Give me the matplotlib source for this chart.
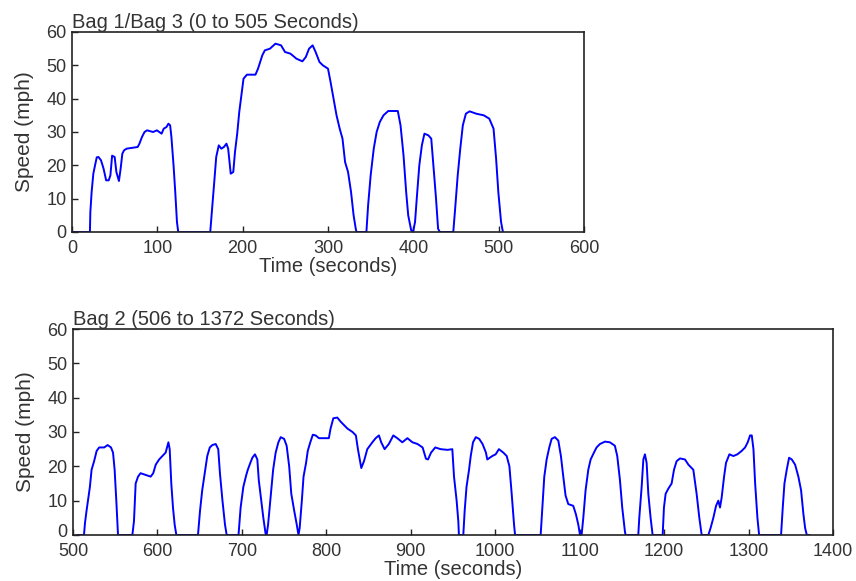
import matplotlib
matplotlib.use("Agg")
from matplotlib import pyplot as plt
from matplotlib.transforms import ScaledTranslation

# Bag 1 / Bag 3 (0 to 505 s), speed in mph
t_bag1 = [0, 21, 21.5, 23, 25, 27, 29, 31, 34, 37, 40, 43, 45, 47, 50, 52, 55, 57, 59, 61, 64,
          77, 79, 82, 85, 88, 95, 99.5, 105, 107.5, 110.7, 113, 115, 116.5, 119, 121, 123, 124.5,
          162, 164.5, 166.7, 169, 172, 175, 178, 181, 183, 184.6, 186, 189, 191, 193.6, 196, 198,
          201, 205, 215, 218, 223, 226, 232, 238.4, 245, 249.6, 256, 263, 270, 274, 277.8, 282,
          285.5, 290, 294, 300, 303, 306.5, 310, 313.7, 317, 320, 323.5, 327, 330, 332.5, 333.4,
          345, 347, 350, 353.6, 357, 360.7, 365, 370.6, 381.8, 385, 388.5, 391.6, 394, 397.5,
          399.7, 402, 404, 407, 410, 413, 417.6, 421, 423.5, 426.6, 429, 431,
          446.8, 449, 452, 455, 458, 461.6, 466, 473.6, 482.6, 489, 494, 497, 499.6, 502.8, 505]
v_bag1 = [0, 0, 6, 12, 17.5, 20, 22.4, 22.5, 21.5, 19, 15.5, 15.5, 17, 22.9, 22.5, 18, 15.3, 19,
          23.5, 24.5, 25, 25.5, 26.5, 28.5, 30, 30.5, 30, 30.5, 29.5, 31, 31.5, 32.5, 32, 28.5, 20,
          12, 3, 0,
          0, 8, 15, 22.5, 26, 25, 25.5, 26.5, 25, 21, 17.5, 18, 24, 29.5, 36, 40,
          46, 47.2, 47.2, 49, 53, 54.5, 55, 56.5, 56, 54, 53.5, 52, 51.2, 52.5, 55, 56,
          54, 51, 50, 49, 45, 40, 35, 31, 28, 21, 18, 12, 5, 1, 0,
          0, 8, 17, 25, 30, 33, 35, 36.3, 36.3, 32, 23, 12, 5, 0.5,
          0, 3, 10, 20, 26, 29.5, 29, 28, 20, 10, 1, 0,
          0, 7, 17, 25, 32, 35.5, 36.2, 35.5, 35, 34, 31, 22, 12, 3, 0]

# Bag 2 (506 to 1372 s)
t_bag2 = [506, 513, 514.2, 516, 518, 520, 522, 525, 528, 531, 537, 541, 545, 547.4, 549.3, 551.3,
          553.3, 570.3, 572.2, 574.2, 577, 580, 586, 592, 595, 598, 602, 605.8, 609.7, 613, 614.5,
          616.4, 618.4, 620.4, 622.4, 648, 650.4, 653, 656, 659, 662, 665, 669, 672, 674, 677, 680,
          682, 696, 698.5, 701.7, 705.2, 707, 710, 712.4, 715.5, 718.3, 720, 723, 725.4, 728, 729.3,
          731, 734, 737, 740, 743.2, 746, 750, 753, 756, 758.5, 762, 765, 767,
          768.4, 771, 773, 776, 778, 781, 784, 787.3, 791.3, 803, 805, 808.3, 813, 817, 821, 825,
          831, 835, 837.4, 840, 841.4, 844.6, 848.5, 854.5, 858.4, 862.3, 865, 869, 874, 879.3,
          884, 890, 896, 902, 908, 914, 918, 920.4, 924, 929, 935.4, 943.5, 949.2, 951.2, 954.3,
          956.3, 957, 962.2, 963.8, 966, 969, 971, 973.7, 977, 981, 985, 989, 990.6, 996.5,
          1000.5, 1004.4, 1009.6, 1013.6, 1016.8, 1019.5, 1022.3, 1023.5,
          1053.8, 1055.8, 1058.1, 1060.9, 1064, 1066.8, 1070.7, 1074.7, 1077.8, 1080.6, 1083.3,
          1086.5, 1092.4, 1095.6, 1098.4, 1100.4, 1102.3, 1104.3, 1107, 1110.2, 1113, 1116.9,
          1120, 1124, 1130, 1135.8, 1141.7, 1144.5, 1147.7, 1150.4, 1153.6, 1154.4,
          1169.4, 1170.6, 1173.4, 1175.4, 1177.3, 1179.3, 1181.3, 1184, 1186.4,
          1198.3, 1199.8, 1201.8, 1205, 1208.9, 1211.7, 1214.8, 1218.8, 1224.7, 1228.7, 1234.6,
          1238.5, 1241.7, 1244.5, 1252.4, 1255, 1258.3, 1261.5, 1264.2, 1266.2, 1268.2, 1271,
          1273.3, 1277.3, 1282, 1286.8, 1291.9, 1295.9, 1299, 1301.8, 1303.8, 1305.8, 1307.8,
          1310.5, 1312.5, 1338.5, 1340.5, 1342.5, 1345.2, 1348, 1351.2, 1355.1, 1359, 1362.2,
          1365, 1367, 1369, 1372]
v_bag2 = [0, 0, 3.5, 7, 10.5, 14, 19, 21.5, 24.5, 25.5, 25.5, 26.2, 25.5, 24, 19, 10,
          0, 0, 4, 15, 17, 18, 17.5, 17, 18, 20.5, 22, 23, 24, 27, 25,
          15, 8, 3, 0, 0, 7, 13, 18, 23, 25.5, 26.2, 26.5, 25, 18, 10, 3,
          0, 0, 8, 14, 17.5, 19, 21, 22.5, 23.5, 22, 16, 10, 5, 0.5, 0,
          3, 11, 19, 24, 27, 28.5, 28, 26, 20, 12, 7, 3, 0,
          2, 10, 17, 21, 24.5, 27, 29.2, 29, 28.2, 28.2, 31, 34, 34.2, 33, 32, 31,
          30, 29, 25, 21.5, 19.5, 21.5, 25, 27, 28.2, 29, 27, 25, 26.5, 29,
          28.2, 27, 28.2, 27, 26.5, 25.5, 22.2, 22, 24, 25.5, 25, 24.8, 25, 17, 10,
          4, 0, 0, 7, 14, 19, 23, 27, 28.5, 28, 26.5, 24, 22, 23,
          23.5, 25, 24, 23, 20, 12, 3, 0,
          0, 8, 17, 22, 25.5, 28, 28.5, 27.5, 23, 17, 11.5,
          9, 8.5, 6, 3, 0, 0, 5, 13, 19, 22, 24,
          25.5, 26.5, 27.2, 27, 26, 23, 16, 8, 1, 0,
          0, 5, 14, 22, 23.5, 21, 12, 5, 0,
          0, 8, 12, 13.5, 15, 19, 21.5, 22.3, 22, 20.5, 19,
          12, 5, 0, 0, 2, 5, 8.5, 10, 8, 11, 17,
          21, 23.5, 23, 23.5, 24.5, 25.5, 27, 29, 29, 25, 15,
          5, 0, 0, 8, 15, 19, 22.5, 22, 20.5, 17, 13,
          6, 2, 0, 0]

y_ticks = [0, 10, 20, 30, 40, 50, 60]

plt.rcParams["font.family"] = ["Liberation Sans", "DejaVu Sans"]
text_color = "#333333"


def style_axes(ax, title):
    ax.set_ylim(0, 60)
    ax.set_yticks(y_ticks)
    ax.tick_params(direction="in", length=4, width=1, labelsize=13, colors=text_color,
                   pad=4, top=False, right=False)
    ax.tick_params(axis="x", pad=6)
    ax.tick_params(axis="both", color="#222222")
    for spine in ax.spines.values():
        spine.set_linewidth(1.2)
        spine.set_color("#222222")
    ax.set_title(title, loc="left", fontsize=14.5, color=text_color, pad=3)
    ax.set_xlabel("Time (seconds)", fontsize=14.5, color=text_color, labelpad=0)
    ax.set_ylabel("Speed (mph)", fontsize=15, color=text_color, labelpad=9)


def main():
    fig = plt.figure(figsize=(8.56, 5.81), dpi=100)

    ax1 = fig.add_axes([72 / 856, 1 - 232 / 581, 512 / 856, 200 / 581])
    ax1.plot(t_bag1, v_bag1, color="#0000ff", linewidth=1.4)
    ax1.set_xlim(0, 600)
    ax1.set_xticks(range(0, 601, 100))
    style_axes(ax1, "Bag 1/Bag 3 (0 to 505 Seconds)")

    ax2 = fig.add_axes([73 / 856, 1 - 535 / 581, 760 / 856, 206 / 581])
    ax2.plot(t_bag2, v_bag2, color="#0000ff", linewidth=1.4)
    ax2.set_xlim(500, 1400)
    ax2.set_xticks(range(500, 1401, 100))
    style_axes(ax2, "Bag 2 (506 to 1372 Seconds)")

    # lift the "0" speed label a little so it clears the "500" below it
    zero_label = ax2.get_yticklabels()[0]
    zero_label.set_transform(zero_label.get_transform()
                             + ScaledTranslation(0, 3 / 72, fig.dpi_scale_trans))

    fig.savefig("out.png", dpi=100)


if __name__ == "__main__":
    main()
